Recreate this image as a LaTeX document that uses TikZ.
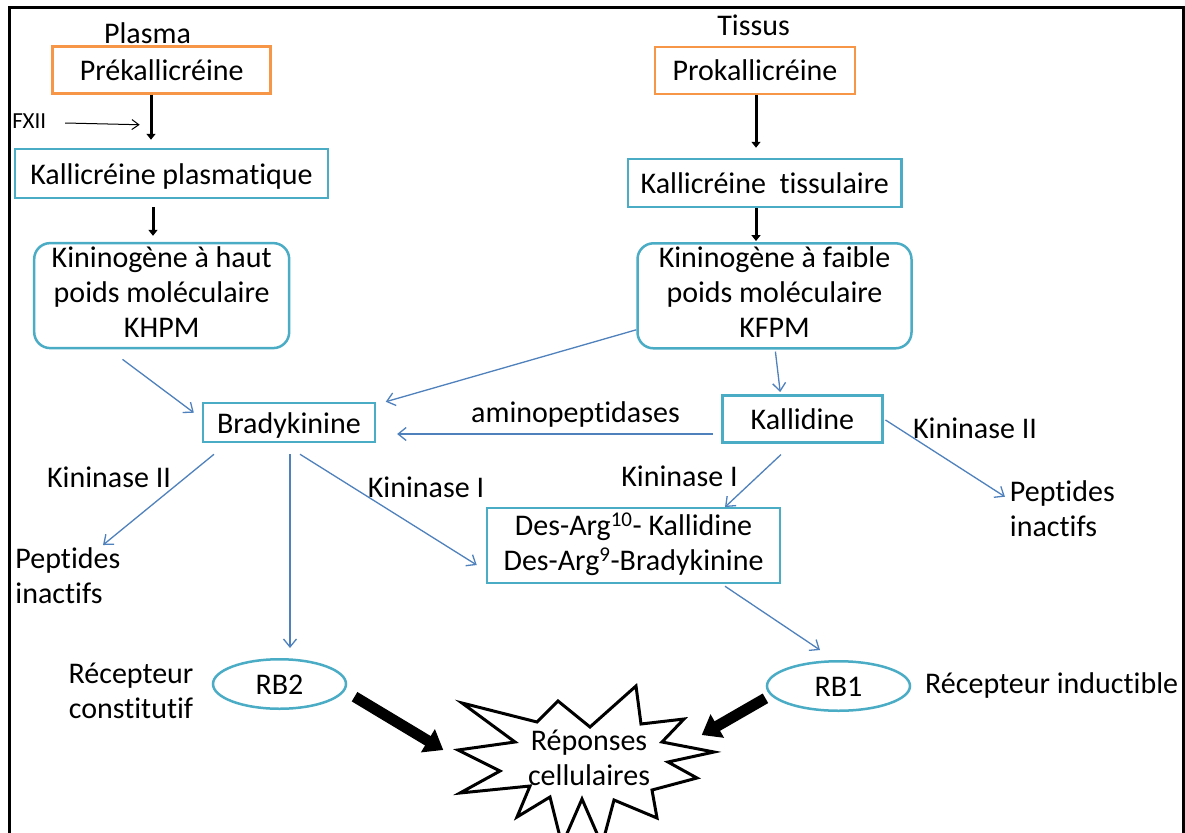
\documentclass[tikz,border=0pt]{standalone}
\usepackage{fontspec}
\setmainfont{Carlito}[Ligatures=NoCommon]
\usetikzlibrary{arrows.meta,calc,shapes.geometric}
\definecolor{orng}{HTML}{F79646}
\definecolor{aqua}{HTML}{4BACC6}
\definecolor{bl}{HTML}{4F81BD}
\newcommand\mystrut{\rule[-7pt]{0pt}{35pt}}
\begin{document}
\begin{tikzpicture}[x=1pt,y=-1pt,
  every node/.style={font=\fontsize{30}{35}\selectfont, inner sep=0pt, execute at begin node=\mystrut},
  obox/.style={draw=orng, line width=2.5pt},
  abox/.style={draw=aqua, line width=2.5pt},
  rbox/.style={draw=aqua, line width=2.5pt, rounded corners=16pt, align=center},
  ell/.style={draw=aqua, line width=2.5pt, ellipse},
  thinarr/.style={draw=bl, line width=1.3pt, -{Straight Barb[length=8pt,width=13pt]}},
  blkarr/.style={line width=3pt, -{Triangle[length=6pt,width=9pt]}},
  fatarr/.style={line width=11pt, -{Triangle[length=18pt,width=26pt]}}]
\useasboundingbox (0,0) rectangle (1185,832);
\fill[white] (0,0) rectangle (1185,832);
\draw[line width=3pt] (9,840) -- (9,8) -- (1183,8) -- (1183,840);

% left column
\node (plasma) at (147.5,33) {Plasma};
\node[obox, minimum width=218pt, minimum height=47pt] (pre) at (161.7,70) {Prékallicréine};
\node[font=\fontsize{23}{28}\selectfont, execute at begin node={\rule[-5.4pt]{0pt}{28pt}}] (fxii) at (29.2,118) {FXII};
\node[abox, minimum width=313pt, minimum height=49pt] (kp) at (171.5,173.5) {Kallicréine plasmatique};
\node[rbox, minimum width=255pt, minimum height=105pt] (khpm) at (161.7,295.6) {Kininogène à haut\\\mystrut poids moléculaire\\\mystrut KHPM};

% right column
\node (tissus) at (753.6,25) {Tissus};
\node[obox, minimum width=200pt, minimum height=47pt] (pro) at (755,70.3) {Prokallicréine};
\node[abox, minimum width=273.5pt, minimum height=48pt] (kt) at (764.75,183) {Kallicréine~ tissulaire};
\node[rbox, minimum width=274pt, minimum height=105pt] (kfpm) at (774.5,295.8) {Kininogène à faible\\\mystrut poids moléculaire\\\mystrut KFPM};

% middle
\node[abox, minimum width=172pt, minimum height=39pt] (brady) at (288.9,422.5) {Bradykinine};
\node[abox, minimum width=160pt, minimum height=46.6pt] (kall) at (802.45,419) {Kallidine};
\node (amino) at (575.5,412) {aminopeptidases};
\node[abox, align=center, minimum width=293pt, minimum height=75pt] (desarg) at (633.5,545.5) {Des-Arg\textsuperscript{10}- Kallidine\\\mystrut Des-Arg\textsuperscript{9}-Bradykinine};

\node (kin2l) at (109,477) {Kininase II};
\node (kin1l) at (426,487) {Kininase I};
\node (kin1r) at (679.5,476) {Kininase I};
\node (kin2r) at (975,428) {Kininase II};
\node[align=left, anchor=west] (peptl) at (15.3,579.2) {Peptides\\\mystrut inactifs};
\node[align=left, anchor=west] (peptr) at (1009.7,512.5) {Peptides\\\mystrut inactifs};

% bottom
\node[ell, minimum width=133pt, minimum height=48pt] (rb2) at (279.5,684) {RB2};
\node[ell, minimum width=143pt, minimum height=48pt] (rb1) at (838.5,686) {RB1};
\node[align=center] (recep) at (131,694) {Récepteur\\\mystrut constitutif};
\node[anchor=west] (recind) at (925,683) {Récepteur inductible};

\begin{scope}
\clip (0,0) rectangle (1185,832);
\draw[line width=3pt, line join=miter, fill=white]
 (462,703) -- (537,722) -- (558,701) -- (590,727) -- (636,686) -- (641,724)
 -- (684,719) -- (662,742) -- (714,752) -- (668,762) -- (697,778) -- (652,790)
 -- (657,818) -- (614,800) -- (602,845) -- (582,799) -- (562,845) -- (550,797)
 -- (517,817) -- (530,786) -- (460,793) -- (500,771) -- (458,750) -- (515,742) -- cycle;
\end{scope}
\node[align=center] (rep) at (589,761) {Réponses\\\mystrut cellulaires};

% black arrows
\draw[blkarr] ($(pre.south)+(-10.7,0)$) -- ($(kp.north)+(-20.5,-8)$);
\draw[line width=1pt, -{Straight Barb[length=7pt,width=10pt]}] ($(fxii.east)+(18.8,5)$) -- ($(pre.south)+(-22,30)$);
\draw[blkarr] ($(kp.south)+(-18.5,8)$) -- ($(khpm.north)+(-8.7,-6)$);
\draw[blkarr] ($(pro.south)+(1,0)$) -- ($(kt.north)+(-8.75,-10)$);
\draw[blkarr] ($(kt.south)+(-8.75,0)$) -- ($(kfpm.north)+(-18.5,-1)$);

% blue arrows
\draw[thinarr] ($(khpm.south)+(-39.2,10)$) -- ($(brady.west)+(-7.8,-9.8)$);
\draw[thinarr] ($(kfpm.west)+(0,34)$) -- ($(brady.north east)+(9.6,0)$);
\draw[thinarr] ($(kall.west)+(-8.6,15)$) -- ($(brady.east)+(21,11.5)$);
\draw[thinarr] ($(kfpm.south)+(0.9,2)$) -- ($(kall.north)+(-22.25,-2.4)$);
\draw[thinarr] ($(brady.south)+(-74.9,11)$) -- ($(peptl.west)+(87.7,-34.2)$);
\draw[thinarr] ($(brady.south)+(1.1,11)$) -- ($(rb2.north)+(10.5,-10)$);
\draw[thinarr] ($(brady.south)+(11.1,11)$) -- ($(desarg.west)+(-9,19.5)$);
\draw[thinarr] ($(kall.south)+(-21.45,11)$) -- ($(desarg.north)+(91.5,0.3)$);
\draw[thinarr] ($(kall.east)+(1.8,1)$) -- ($(peptr.west)+(-4.8,-15.8)$);
\draw[thinarr] ($(desarg.south)+(91.5,2)$) -- ($(rb1.north)+(-18.5,-10)$);

% fat arrows
\draw[fatarr] ($(rb2.east)+(7.3,12.7)$) -- ($(rep)+(-145.7,-11)$);
\draw[fatarr] ($(rb1.west)+(-0.3,12.3)$) -- ($(rep)+(112.7,-26)$);
\end{tikzpicture}
\end{document}
